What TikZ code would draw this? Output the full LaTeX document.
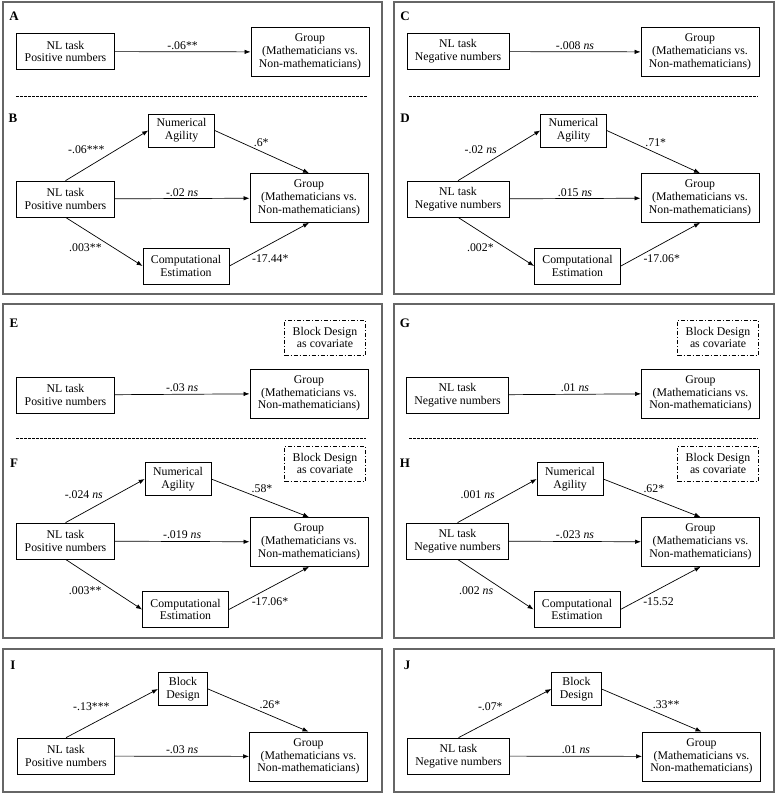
\documentclass[tikz,border=0pt]{standalone}
\usepackage{fontspec}
\setmainfont{Liberation Serif}
\usetikzlibrary{arrows.meta}

\newcommand{\fsz}{\fontsize{11.8}{12.8}\selectfont}

\tikzset{
  box/.style={draw, line width=0.7pt, align=center, inner xsep=8pt, inner ysep=2pt, minimum height=36pt, font=\fsz},
  grp/.style={box, minimum height=49pt},
  mid/.style={box, minimum height=33pt},
  cov/.style={draw, dash pattern=on 4pt off 2pt on 1pt off 2pt, line width=0.6pt, align=center, inner xsep=8pt, minimum height=35pt, font=\fsz},
  arr/.style={-{Latex[length=6pt,width=4.5pt]}, line width=0.7pt},
  panel/.style={draw=black!60, line width=1.2pt},
  tag/.style={font=\bfseries\fontsize{13}{13}\selectfont},
  coef/.style={font=\fsz, inner sep=2pt},
  upr/.style={coef, pos=0.4, above right, inner sep=1pt},
  lwr/.style={coef, pos=0.25, anchor=west, inner sep=1pt, xshift=1.5pt, yshift=-3pt},
  sep/.style={dash pattern=on 2.5pt off 1.5pt, line width=0.7pt}
}

\begin{document}
\begin{tikzpicture}[x=1pt,y=-1pt]

\useasboundingbox (0,0) rectangle (777,795);

% Panel frames
\draw[panel] (3,2) rectangle (382,294);
\draw[panel] (394,2) rectangle (774,294);
\draw[panel] (3,304) rectangle (382,638);
\draw[panel] (394,304) rectangle (774,638);
\draw[panel] (3,649) rectangle (382,792);
\draw[panel] (394,649) rectangle (774,792);

% Separators
\draw[sep] (16,96) -- (367,96);
\draw[sep] (409,96) -- (758,96);
\draw[sep] (16,438) -- (366,438);
\draw[sep] (409,438) -- (758,438);

% Panel A
\node[tag] (tA) at (14,16) {A};
\node[box] (nlA) at (65.5,51.5) {NL task\\Positive numbers};
\node[grp] (grpA) at (310,52) {Group\\(Mathematicians vs.\\Non-mathematicians)};
\draw[arr] (nlA) -- node[coef, above] {-.06**} (grpA);

% Panel B
\node[tag] (tB) at (13,118) {B};
\node[mid] (naB) at (181.5,130.5) {Numerical\\Agility};
\node[box] (nlB) at (65.5,199) {NL task\\Positive numbers};
\node[grp] (grpB) at (309,198) {Group\\(Mathematicians vs.\\Non-mathematicians)};
\node[box] (ceB) at (186,266) {Computational\\Estimation};
\draw[arr] (nlB.north) -- node[coef, above left] {-.06***} (naB.west);
\draw[arr] (naB.east) -- node[upr] {.6*} (grpB.north);
\draw[arr] (nlB) -- node[coef, above] {-.02 \textit{ns}} (grpB);
\draw[arr] (nlB.south) -- node[coef, below left] {.003**} (ceB.west);
\draw[arr] (ceB.east) -- node[lwr] {-17.44*} (grpB.south);

% Panel C
\node[tag] (tC) at (405,16) {C};
\node[box] (nlC) at (458,51.5) {NL task\\Negative numbers};
\node[grp] (grpC) at (700,52) {Group\\(Mathematicians vs.\\Non-mathematicians)};
\draw[arr] (nlC) -- node[coef, above] {-.008 \textit{ns}} (grpC);

% Panel D
\node[tag] (tD) at (405,118) {D};
\node[mid] (naD) at (573.5,130.5) {Numerical\\Agility};
\node[box] (nlD) at (458,199) {NL task\\Negative numbers};
\node[grp] (grpD) at (700,198) {Group\\(Mathematicians vs.\\Non-mathematicians)};
\node[box] (ceD) at (577.5,266) {Computational\\Estimation};
\draw[arr] (nlD.north) -- node[coef, above left] {-.02 \textit{ns}} (naD.west);
\draw[arr] (naD.east) -- node[upr] {.71*} (grpD.north);
\draw[arr] (nlD) -- node[coef, above] {.015 \textit{ns}} (grpD);
\draw[arr] (nlD.south) -- node[coef, below left] {.002*} (ceD.west);
\draw[arr] (ceD.east) -- node[lwr] {-17.06*} (grpD.south);

% Panel E
\node[tag] (tE) at (14,323) {E};
\node[cov] (covE) at (325,337.5) {Block Design\\as covariate};
\node[box] (nlE) at (65.5,395) {NL task\\Positive numbers};
\node[grp] (grpE) at (309,393.5) {Group\\(Mathematicians vs.\\Non-mathematicians)};
\draw[arr] (nlE) -- node[coef, above] {-.03 \textit{ns}} (grpE);

% Panel F
\node[tag] (tF) at (14,463) {F};
\node[cov] (covF) at (325,463.5) {Block Design\\as covariate};
\node[mid] (naF) at (178,479) {Numerical\\Agility};
\node[box] (nlF) at (65.5,541) {NL task\\Positive numbers};
\node[grp] (grpF) at (309,542) {Group\\(Mathematicians vs.\\Non-mathematicians)};
\node[box] (ceF) at (185.5,609.5) {Computational\\Estimation};
\draw[arr] (nlF.north) -- node[coef, above left] {-.024 \textit{ns}} (naF.west);
\draw[arr] (naF.east) -- node[upr] {.58*} (grpF.north);
\draw[arr] (nlF) -- node[coef, above] {-.019 \textit{ns}} (grpF);
\draw[arr] (nlF.south) -- node[coef, below left] {.003**} (ceF.west);
\draw[arr] (ceF.east) -- node[lwr] {-17.06*} (grpF.south);

% Panel G
\node[tag] (tG) at (405,323) {G};
\node[cov] (covG) at (718,337.5) {Block Design\\as covariate};
\node[box] (nlG) at (457.5,395) {NL task\\Negative numbers};
\node[grp] (grpG) at (700.5,393.5) {Group\\(Mathematicians vs.\\Non-mathematicians)};
\draw[arr] (nlG) -- node[coef, above] {.01 \textit{ns}} (grpG);

% Panel H
\node[tag] (tH) at (405,463) {H};
\node[cov] (covH) at (718,463.5) {Block Design\\as covariate};
\node[mid] (naH) at (570,479) {Numerical\\Agility};
\node[box] (nlH) at (457.5,541) {NL task\\Negative numbers};
\node[grp] (grpH) at (700.5,542) {Group\\(Mathematicians vs.\\Non-mathematicians)};
\node[box] (ceH) at (577,609.5) {Computational\\Estimation};
\draw[arr] (nlH.north) -- node[coef, above left] {.001 \textit{ns}} (naH.west);
\draw[arr] (naH.east) -- node[upr] {.62*} (grpH.north);
\draw[arr] (nlH) -- node[coef, above] {-.023 \textit{ns}} (grpH);
\draw[arr] (nlH.south) -- node[coef, below left] {.002 \textit{ns}} (ceH.west);
\draw[arr] (ceH.east) -- node[lwr] {-15.52} (grpH.south);

% Panel I
\node[tag] (tI) at (13,665) {I};
\node[mid] (bdI) at (183,689) {Block\\Design};
\node[box] (nlI) at (66,756) {NL task\\Positive numbers};
\node[grp] (grpI) at (308.5,756.5) {Group\\(Mathematicians vs.\\Non-mathematicians)};
\draw[arr] (nlI.north) -- node[coef, above left] {-.13***} (bdI.west);
\draw[arr] (bdI.east) -- node[upr, pos=0.5] {.26*} (grpI.north);
\draw[arr] (nlI) -- node[coef, above] {-.03 \textit{ns}} (grpI);

% Panel J
\node[tag] (tJ) at (407,665) {J};
\node[mid] (bdJ) at (576.5,689) {Block\\Design};
\node[box] (nlJ) at (458.5,756) {NL task\\Negative numbers};
\node[grp] (grpJ) at (701.5,756.5) {Group\\(Mathematicians vs.\\Non-mathematicians)};
\draw[arr] (nlJ.north) -- node[coef, above left] {-.07*} (bdJ.west);
\draw[arr] (bdJ.east) -- node[upr, pos=0.5] {.33**} (grpJ.north);
\draw[arr] (nlJ) -- node[coef, above] {.01 \textit{ns}} (grpJ);

\end{tikzpicture}
\end{document}
